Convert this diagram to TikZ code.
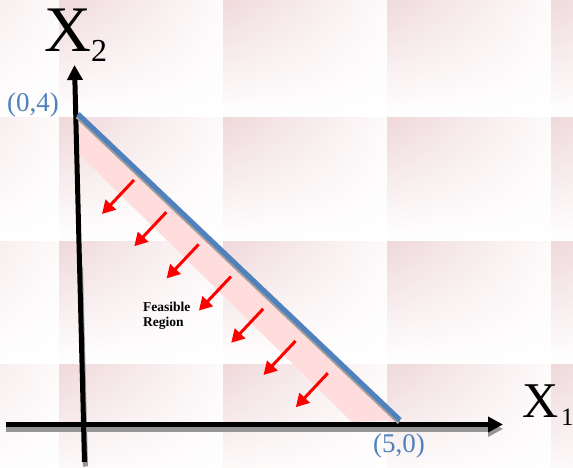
\documentclass[tikz,border=0pt]{standalone}
\usepackage{fontspec}
\setmainfont{Liberation Serif}
\usetikzlibrary{arrows.meta,shadings,calc}
\definecolor{tilepink}{RGB}{239,216,218}
\definecolor{bandpink}{RGB}{255,221,221}
\definecolor{lineblue}{RGB}{79,129,189}
\definecolor{shadowgray}{RGB}{150,150,150}
\definecolor{arrowred}{RGB}{255,0,0}
\tikzset{
  tile/.style={shading=bilinear interpolation, upper left=tilepink, upper right=tilepink!12, lower left=white, lower right=white},
  axisline/.style={line width=5pt, black, -{Triangle[length=15pt,width=15pt]}},
  axisshadow/.style={line width=5pt, shadowgray},
  redarrow/.style={line width=3pt, arrowred, -{Triangle[length=13pt,width=14pt]}},
  coordlabel/.style={anchor=base west, inner sep=0pt, text=lineblue, font=\fontsize{27}{27}\selectfont},
  biglabel/.style={anchor=base west, inner sep=0pt, text=black},
  smalllabel/.style={anchor=base west, inner sep=0pt, font=\fontsize{13.5}{14}\selectfont\bfseries}
}
\begin{document}
\begin{tikzpicture}[x=1pt,y=-1pt]
\useasboundingbox (0,0) rectangle (573,468);
\fill[white] (0,0) rectangle (573,468);
% background tiles
\foreach \cx in {-105,59,223,387,551}{
  \foreach \cy in {-5,118,241,364}{
    \shade[tile] (\cx,\cy) rectangle ++(164,123);
  }
}
% coordinates
\coordinate (ybot) at (84.5,462);
\coordinate (ytop) at (74.5,65);
\coordinate (ymid) at (79.5,263);
\coordinate (xleft) at (6,424.5);
\coordinate (xright) at (503,424.5);
\coordinate (p04) at (78,114);
\coordinate (p50) at (400,420);
% feasible band
\fill[bandpink] (p04) -- (p50) -- (352,422) -- (80,155) -- cycle;
% red arrows
\foreach \i in {0,...,6}{
  \coordinate (t\i) at ({134+32.3*\i},{180+32.2*\i});
  \coordinate (h\i) at ({102+32.3*\i},{214+32.2*\i});
  \draw[redarrow] (t\i) -- (h\i);
}
% axes shadows
\draw[axisshadow, -{Triangle[length=15pt,width=15pt]}] ([yshift=-4.5pt]xleft) -- ([yshift=-4.5pt]xright);
\draw[axisshadow] ([shift={(1pt,-4.5pt)}]ybot) -- ([shift={(1pt,-4.5pt)}]ymid);
% axes
\draw[axisline] (xleft) -- (xright);
\draw[axisline] (ybot) -- (ytop);
% constraint line
\draw[line width=4pt, shadowgray!90!bandpink] ([shift={(-1pt,-2.5pt)}]p04) -- ([shift={(-1pt,-2.5pt)}]p50);
\draw[line width=5pt, lineblue] (p04) -- (p50);
% labels
\node[biglabel, font=\fontsize{65}{65}\selectfont] (x2) at (44,52) {X};
\node[biglabel, font=\fontsize{32}{32}\selectfont] (x2sub) at (91,62) {2};
\node[biglabel, font=\fontsize{50}{50}\selectfont] (x1) at (522,417) {X};
\node[biglabel, font=\fontsize{25}{25}\selectfont] (x1sub) at (561,425) {1};
\node[coordlabel] (l04) at (7,112) {(0,4)};
\node[coordlabel] (l50) at (373,452) {(5,0)};
\node[smalllabel] (feas) at (143,311) {Feasible};
\node[smalllabel] (reg) at (143,326) {Region};
\end{tikzpicture}
\end{document}
